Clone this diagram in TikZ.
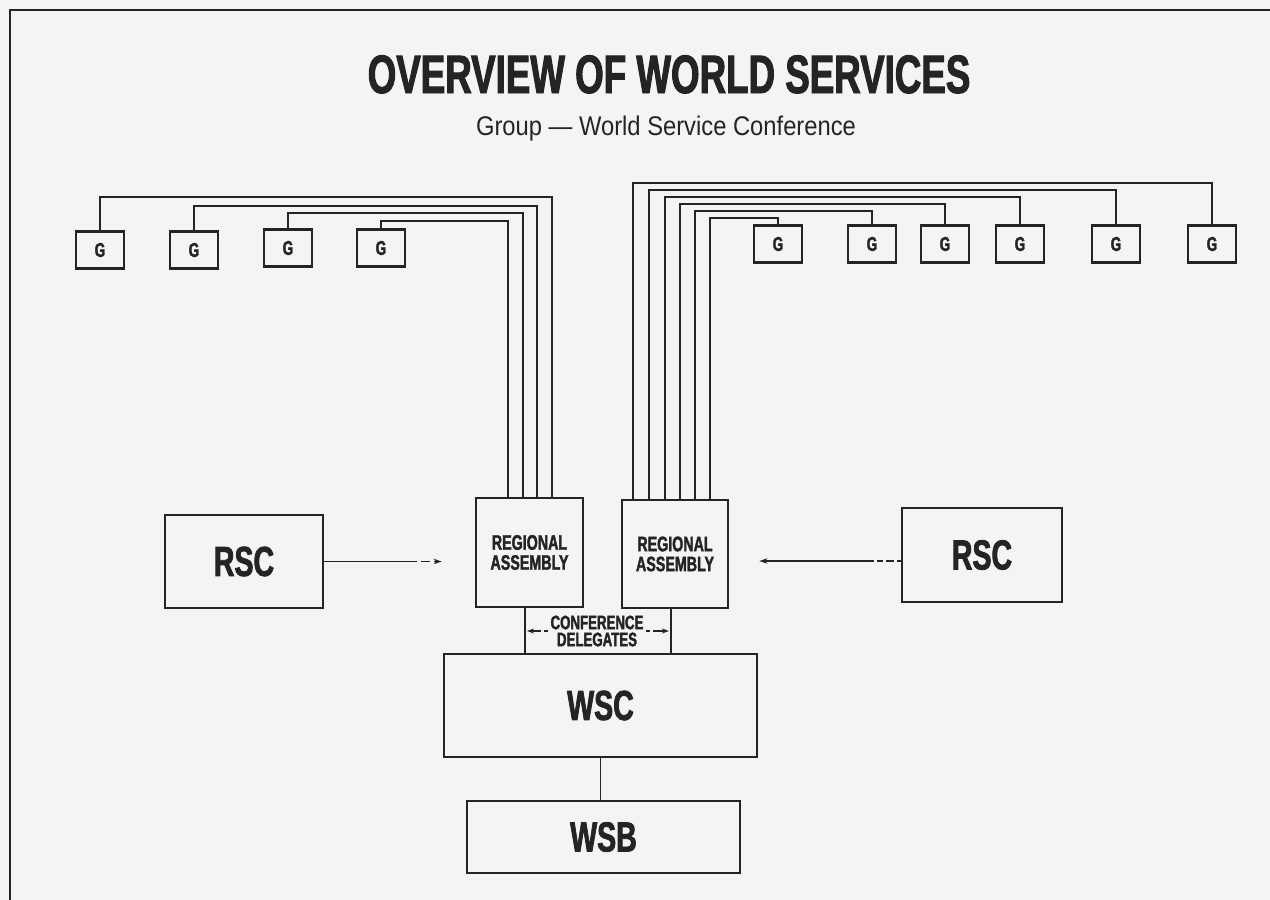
\documentclass[tikz,border=0pt]{standalone}
\usepackage{fontspec}
\setmainfont{Liberation Sans}
\newfontfamily\heavycond[FakeStretch=0.68,FakeBold=1.8]{Liberation Sans}
\newfontfamily\lightcond[FakeStretch=0.88]{Liberation Sans}
\usetikzlibrary{arrows.meta}
\definecolor{paper}{HTML}{F4F4F2}
\definecolor{ink}{HTML}{242424}

\begin{document}
\begin{tikzpicture}[x=1pt,y=-1pt,
  box/.style={draw=ink, line width=2.8pt, inner sep=0pt, text=ink, align=center},
  gbox/.style={box, minimum width=48pt, minimum height=37pt,
    font=\heavycond\bfseries\fontsize{20}{20}\selectfont},
  bigbox/.style={box, font=\heavycond\bfseries\fontsize{42}{42}\selectfont},
  rabox/.style={box, minimum width=107pt, minimum height=109pt,
    font=\heavycond\bfseries\fontsize{21}{20}\selectfont},
  wire/.style={draw=ink, line width=1.3pt},
  feed/.style={draw=ink, line width=1.3pt, -{Stealth[length=8pt,width=5.5pt]}},
  frameline/.style={draw=ink, line width=2.6pt}
]
% page and the two visible frame edges
\fill[paper] (0,0) rectangle (1270,900);
\useasboundingbox (0,0) rectangle (1270,900);
\draw[frameline] (10,900) -- (10,10) -- (1270,10);

% headings
\node[anchor=base, text=ink, inner sep=0pt,
  font=\heavycond\bfseries\fontsize{54}{54}\selectfont] (title) at (669,93)
  {OVERVIEW OF WORLD SERVICES};
\node[anchor=base, text=ink, inner sep=0pt,
  font=\lightcond\fontsize{27}{27}\selectfont] (subtitle) at (666,135)
  {Group — World Service Conference};

% groups
\node[gbox] (g1)  at (100,250) {G};
\node[gbox] (g2)  at (194,250) {G};
\node[gbox] (g3)  at (288,248) {G};
\node[gbox] (g4)  at (381,248) {G};
\node[gbox] (g5)  at (778,244) {G};
\node[gbox] (g6)  at (872,244) {G};
\node[gbox] (g7)  at (945,244) {G};
\node[gbox] (g8)  at (1020,244) {G};
\node[gbox] (g9)  at (1116,244) {G};
\node[gbox] (g10) at (1212,244) {G};

% regional assemblies and service bodies
\node[rabox] (ra1) at (529.5,552.5) {REGIONAL\\ASSEMBLY};
\node[rabox, minimum width=106pt, minimum height=108pt] (ra2) at (675,554) {REGIONAL\\ASSEMBLY};
\node[bigbox, minimum width=158pt, minimum height=93pt] (rsc1) at (244,561.5) {RSC};
\node[bigbox, minimum width=160pt, minimum height=94pt] (rsc2) at (982,555) {RSC};
\node[bigbox, minimum width=313pt, minimum height=103pt] (wsc) at (600.5,705.5) {WSC};
\node[bigbox, minimum width=273pt, minimum height=72pt] (wsb) at (603.5,837) {WSB};

% group wiring into the assemblies
\foreach \g/\x/\y/\r in {g1/552/197/ra1, g2/537/206/ra1, g3/523/213/ra1, g4/508/221/ra1,
    g10/633/183/ra2, g9/649/190/ra2, g8/665/197/ra2, g7/680/204/ra2, g6/695/211/ra2, g5/710/218/ra2}
  \draw[wire] (\g.north) |- (\x,\y) coordinate (k) -- (k |- \r.north);

% regional service committees feeding the assemblies
\draw[feed, shorten >=33pt, dash pattern=on 93pt off 4pt on 9pt off 4pt on 200pt]
  (rsc1.east) coordinate (s1) -- (s1 -| ra1.west);
\draw[feed, shorten >=30pt, dash pattern=on 4pt off 3pt on 8pt off 3pt on 6pt off 3pt on 300pt]
  ([yshift=-6pt]rsc2.west) coordinate (s2) -- (s2 -| ra2.east);

% conference delegates
\coordinate (d1) at (525,0);
\coordinate (d2) at (671,0);
\draw[wire] (d1 |- ra1.south) -- (d1 |- wsc.north);
\draw[wire] (d2 |- ra2.south) -- (d2 |- wsc.north);
\node[text=ink, align=center, inner sep=2pt,
  font=\heavycond\bfseries\fontsize{19.5}{17}\selectfont] (cd) at (597,631)
  {CONFERENCE\\DELEGATES};
\draw[feed, shorten >=2pt, dash pattern=on 4pt off 3pt on 40pt,
  -{Stealth[length=7pt,width=5pt]}] (cd.west) -- (cd.west -| d1);
\draw[feed, shorten >=2pt, dash pattern=on 4pt off 3pt on 40pt,
  -{Stealth[length=7pt,width=5pt]}] (cd.east) -- (cd.east -| d2);

% world service conference to world service board
\draw[wire] (wsc.south) -- (wsc.south |- wsb.north);
\end{tikzpicture}
\end{document}
